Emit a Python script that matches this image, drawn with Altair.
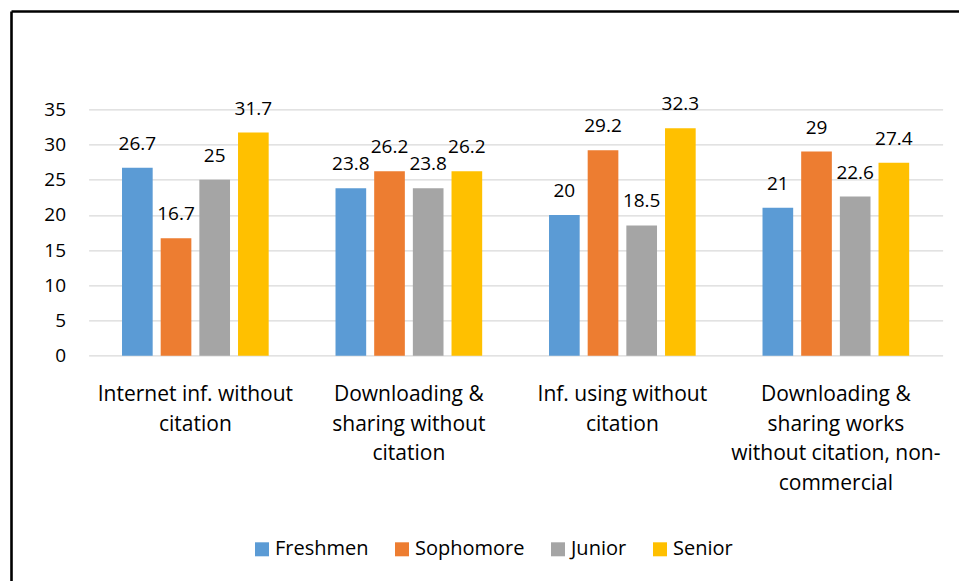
import altair as alt
import pandas as pd

categories = [
    "Internet inf. without\ncitation",
    "Downloading &\nsharing without\ncitation",
    "Inf. using without\ncitation",
    "Downloading &\nsharing works\nwithout citation, non-\ncommercial",
]
series = ["Freshmen", "Sophomore", "Junior", "Senior"]
freshmen = [26.7, 23.8, 20, 21]
sophomore = [16.7, 26.2, 29.2, 29]
junior = [25, 23.8, 18.5, 22.6]
senior = [31.7, 26.2, 32.3, 27.4]
colors = ["#5B9BD5", "#ED7D31", "#A5A5A5", "#FFC000"]
y_ticks = [0, 5, 10, 15, 20, 25, 30, 35]

rows = []
for s, vals in zip(series, [freshmen, sophomore, junior, senior]):
    for c, v in zip(categories, vals):
        rows.append({"category": c, "series": s, "value": v})
df = pd.DataFrame(rows)

FONT = "Open Sans"
W, H = 854, 246.4
PL, PT = 88.6, 109.3

base = alt.Chart(df).encode(
    x=alt.X("category:N", sort=categories, title=None,
            scale=alt.Scale(paddingInner=0.313, paddingOuter=0.1565),
            axis=alt.Axis(labelAngle=0, ticks=False, domain=False, grid=False,
                          labelExpr="split(datum.label, '\\n')",
                          labelFont=FONT, labelFontSize=21, labelColor="#000000",
                          labelPadding=28, labelLineHeight=29.5, labelLimit=400)),
    xOffset=alt.XOffset("series:N", sort=series,
                        scale=alt.Scale(paddingInner=0.207, paddingOuter=0)),
    y=alt.Y("value:Q", title=None,
            scale=alt.Scale(domain=[0, 35], nice=False),
            axis=alt.Axis(values=y_ticks, ticks=False, domain=False, grid=True,
                          gridColor="#D9D9D9", gridWidth=1.3, labelOverlap=False,
                          labelFont=FONT, labelFontSize=19, labelColor="#000000",
                          labelPadding=23)),
)

bars = base.mark_bar().encode(
    color=alt.Color("series:N", sort=series,
                    scale=alt.Scale(domain=series, range=colors),
                    legend=alt.Legend(title=None, orient="none", direction="horizontal",
                                      legendX=252 - PL, legendY=430,
                                      symbolType="square", symbolSize=196,
                                      symbolStrokeWidth=0, symbolOpacity=1,
                                      labelFont=FONT, labelFontSize=20,
                                      labelColor="#000000", labelOffset=3,
                                      columnPadding=23)),
)

labels = base.mark_text(baseline="alphabetic", align="center", dy=-18,
                        font=FONT, fontSize=19, color="#000000").encode(
    text=alt.Text("value:Q", format=".1~f"),
)

frame_df = pd.DataFrame({"k": [0]})
left_line = alt.Chart(frame_df).mark_rule(color="#000000", strokeWidth=2.6).encode(
    x=alt.value(11.5 - PL), y=alt.value(11.5 - PT), y2=alt.value(581 - PT + 5))
top_line = alt.Chart(frame_df).mark_rule(color="#000000", strokeWidth=2.6).encode(
    y=alt.value(11.5 - PT), x=alt.value(11.5 - PL), x2=alt.value(959 - PL + 5))

chart = alt.layer(bars, labels, left_line, top_line).properties(
    width=W, height=H,
    autosize=alt.AutoSizeParams(type="none"),
    padding={"left": PL, "top": PT, "right": 959 - PL - W, "bottom": 581 - PT - H},
    background="#FFFFFF",
).configure_view(stroke=None)

chart.save("out.html", embed_options={"renderer": "svg", "actions": False})
